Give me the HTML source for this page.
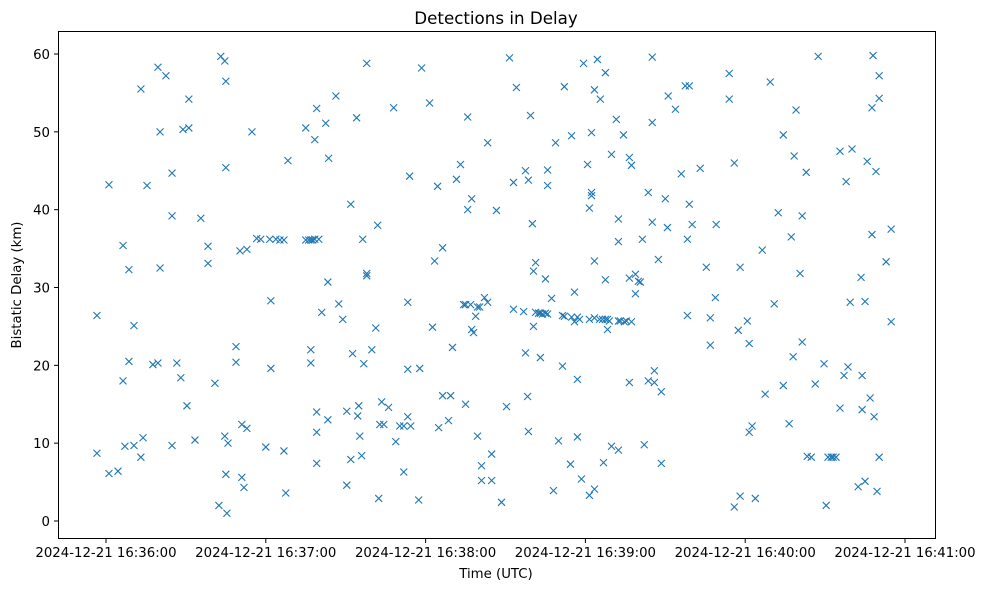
<!DOCTYPE html>
<html><head><meta charset="utf-8">
<style>
html,body{margin:0;padding:0;background:#fff;}
svg{display:block;font-family:"DejaVu Sans","Liberation Sans",sans-serif;}
</style></head>
<body>
<svg id="chart" width="986" height="590" viewBox="0 0 986 590" xmlns="http://www.w3.org/2000/svg">
<rect width="986" height="590" fill="#fff"/>
<text x="496" y="24" text-anchor="middle" font-size="16.7" fill="#000">Detections in Delay</text>
<g id="marks"></g>
<g id="axes"></g>
<rect x="58.5" y="31.5" width="877" height="507" fill="none" stroke="#000" stroke-width="1"/>
<text x="496" y="578" text-anchor="middle" font-size="13.3" fill="#000">Time (UTC)</text>
<text transform="translate(21,285) rotate(-90)" text-anchor="middle" font-size="13.3" fill="#000">Bistatic Delay (km)</text>
</svg>
<script>
// seconds after 2024-12-21 16:36:00 UTC
const times = [-3.4,-3.4,1.1,1.1,4.5,6.4,6.4,7.1,8.6,8.6,10.5,10.5,13.1,13.1,13.9,15.4,17.6,19.5,19.5,20.3,20.3,22.5,24.8,24.8,24.8,26.6,28.1,28.9,30.4,31.1,31.1,33.4,35.6,38.3,38.3,40.9,42.4,43.1,44.6,44.6,45.0,45.0,45.0,45.4,45.8,48.8,48.8,50.3,51.0,51.0,51.8,52.9,52.9,54.8,56.6,58.1,60.0,61.5,61.9,61.9,63.8,65.3,66.8,66.8,67.5,68.3,75.0,75.0,76.1,76.9,76.9,76.9,77.6,78.4,78.4,79.1,79.1,79.1,79.1,79.9,81.0,82.5,83.3,83.3,83.6,86.3,87.4,88.9,90.4,90.4,91.9,91.9,92.6,94.1,94.5,94.9,95.3,96.0,96.4,96.8,97.9,97.9,97.9,99.8,101.3,102.0,102.4,102.8,103.5,104.3,106.1,108.0,108.8,110.3,111.8,111.8,113.3,113.3,113.3,114.0,114.4,117.4,117.8,118.5,121.5,122.6,123.4,124.5,124.9,126.4,126.4,128.6,129.4,130.1,131.6,133.1,134.3,135.0,135.0,135.8,135.8,136.9,137.3,137.3,138.0,138.8,139.5,139.5,140.3,141.0,141.0,142.1,143.3,143.3,144.8,144.8,146.6,148.5,150.4,151.5,153.0,153.0,154.1,156.8,157.5,157.5,158.3,158.6,158.6,159.4,160.1,160.5,160.5,161.3,161.3,162.4,163.1,163.1,163.9,165.0,165.0,165.8,165.8,165.8,167.3,168.0,168.8,169.9,171.4,171.4,172.1,172.1,174.4,174.8,174.8,175.9,175.9,177.0,177.0,177.0,177.8,178.5,179.3,180.8,181.5,181.5,181.5,182.3,182.3,182.3,183.4,183.4,183.4,183.4,184.5,185.3,185.6,186.4,186.8,187.5,187.5,187.5,188.3,188.3,189.0,189.8,189.8,191.6,192.4,192.4,192.4,192.4,193.1,194.3,194.6,195.4,196.5,196.5,196.5,197.3,197.3,198.8,198.8,199.9,200.6,201.4,202.1,203.6,203.6,205.1,205.1,205.1,205.9,205.9,207.4,208.5,208.5,210.0,210.8,211.1,213.8,216.0,217.5,218.3,218.3,219.0,219.0,220.1,223.1,225.4,226.9,226.9,228.8,229.1,234.0,234.0,235.9,235.9,237.4,238.1,238.1,240.8,241.5,241.5,242.6,243.8,246.4,247.5,249.4,250.9,252.4,254.3,254.3,256.5,257.3,258.0,258.4,259.1,260.6,261.4,261.4,262.9,263.3,264.8,266.3,267.4,269.6,270.4,271.1,272.3,273.0,274.1,275.6,275.6,277.1,277.9,278.6,279.4,280.1,282.4,283.5,283.9,283.9,285.0,285.0,285.8,286.9,287.6,287.6,288.0,288.4,289.1,289.5,290.3,290.3,290.3,292.9,294.8,294.8];
const delays = [26.4,8.7,43.2,6.1,6.4,35.4,18.0,9.6,32.3,20.5,25.1,9.7,55.5,8.2,10.7,43.1,20.1,58.3,20.3,32.5,50.0,57.2,44.7,39.2,9.7,20.3,18.4,50.3,14.8,50.5,54.2,10.4,38.9,35.3,33.1,17.7,2.0,59.7,59.1,10.9,6.0,56.5,45.4,1.0,10.0,20.4,22.4,34.7,12.4,5.6,4.3,34.9,11.9,50.0,36.3,36.2,9.5,36.2,28.3,19.6,36.2,36.1,36.1,9.0,3.6,46.3,50.5,36.1,36.1,36.1,22.0,20.3,36.1,49.0,36.2,53.0,14.0,11.4,7.4,36.2,26.8,51.1,13.0,30.7,46.6,54.6,27.9,25.9,14.1,4.6,40.7,7.9,21.5,51.8,13.5,14.8,10.9,8.4,36.2,20.2,58.8,31.8,31.5,22.0,24.8,38.0,2.9,12.4,15.3,12.4,14.6,53.1,10.2,12.2,6.3,12.2,28.1,19.5,13.4,44.3,12.2,2.7,19.6,58.2,53.7,24.9,33.4,43.0,12.0,35.1,16.1,12.9,16.1,22.3,43.9,45.8,27.8,27.8,15.0,51.9,40.0,27.8,24.6,41.4,24.2,26.3,27.5,10.9,27.5,7.1,5.2,28.7,28.1,48.6,8.6,5.2,39.9,2.4,14.7,59.5,43.5,27.2,55.7,26.9,45.0,21.6,16.0,11.5,43.8,52.1,38.2,25.0,32.1,33.2,26.8,26.7,21.0,26.7,26.6,31.1,26.7,26.6,43.1,45.1,28.6,3.9,48.6,10.3,26.4,19.9,26.3,55.8,7.3,49.5,26.2,25.6,29.4,26.2,10.8,18.2,25.9,5.4,58.8,45.8,25.9,40.2,3.3,49.9,41.8,42.2,55.4,26.1,33.4,4.1,59.3,25.9,54.2,25.9,7.5,31.0,57.6,25.9,25.9,24.6,25.7,47.1,9.6,51.6,25.7,38.8,35.9,9.1,25.7,49.6,25.6,25.7,46.7,31.2,17.8,45.7,25.6,31.7,29.2,30.8,30.7,36.2,9.8,42.2,18.0,59.6,51.2,38.4,19.3,17.8,33.6,16.6,7.4,41.4,37.7,54.6,52.9,44.6,55.9,26.4,36.2,40.7,55.9,38.1,45.3,32.6,26.1,22.6,28.7,38.1,54.2,57.5,1.8,46.0,24.5,3.2,32.6,25.7,11.4,22.8,12.2,2.9,34.8,16.3,56.4,27.9,39.6,17.4,49.6,12.5,36.5,21.1,46.9,52.8,31.8,23.0,39.2,44.8,8.3,8.2,17.6,59.7,20.2,2.0,8.2,8.2,8.2,8.2,14.5,47.5,18.7,43.6,19.8,28.1,47.8,4.4,31.3,14.3,18.7,28.2,5.1,46.2,15.8,36.8,53.1,59.8,13.4,44.9,3.8,57.2,54.3,8.2,33.3,25.6,37.5];
const yTicks = [0,10,20,30,40,50,60];
const xTicks = [0,60,120,180,240,300];
const xTickLabels = ["2024-12-21 16:36:00","2024-12-21 16:37:00","2024-12-21 16:38:00","2024-12-21 16:39:00","2024-12-21 16:40:00","2024-12-21 16:41:00"];

const NS = "http://www.w3.org/2000/svg";
function xScale(t){ return 106 + t * (799/300); }
function yScale(d){ return 521 - d * (467/60); }

const marks = document.getElementById('marks');
for (let i = 0; i < times.length; i++) {
  const cx = xScale(times[i]), cy = yScale(delays[i]), r = 3.5;
  const p = document.createElementNS(NS, 'path');
  p.setAttribute('d', `M${cx-r},${cy-r}L${cx+r},${cy+r}M${cx-r},${cy+r}L${cx+r},${cy-r}`);
  p.setAttribute('stroke', '#1f77b4');
  p.setAttribute('stroke-width', '1.1');
  p.setAttribute('fill', 'none');
  
  
  marks.appendChild(p);
}

const axes = document.getElementById('axes');
yTicks.forEach(v => {
  const y = yScale(v);
  const l = document.createElementNS(NS, 'line');
  l.setAttribute('x1', 58.5); l.setAttribute('x2', 54); l.setAttribute('y1', y); l.setAttribute('y2', y);
  l.setAttribute('stroke', '#000');
  
  
  axes.appendChild(l);
  const t = document.createElementNS(NS, 'text');
  t.setAttribute('x', 50); t.setAttribute('y', y + 5);
  t.setAttribute('text-anchor', 'end'); t.setAttribute('font-size', '13.3');
  t.textContent = v;
  
  
  axes.appendChild(t);
});
xTicks.forEach((v, i) => {
  const x = xScale(v);
  const l = document.createElementNS(NS, 'line');
  l.setAttribute('x1', x); l.setAttribute('x2', x); l.setAttribute('y1', 538.5); l.setAttribute('y2', 543);
  l.setAttribute('stroke', '#000');
  
  
  axes.appendChild(l);
  const t = document.createElementNS(NS, 'text');
  t.setAttribute('x', x); t.setAttribute('y', 557);
  t.setAttribute('text-anchor', 'middle'); t.setAttribute('font-size', '13.3');
  t.textContent = xTickLabels[i];
  
  
  axes.appendChild(t);
});
</script>
</body></html>
